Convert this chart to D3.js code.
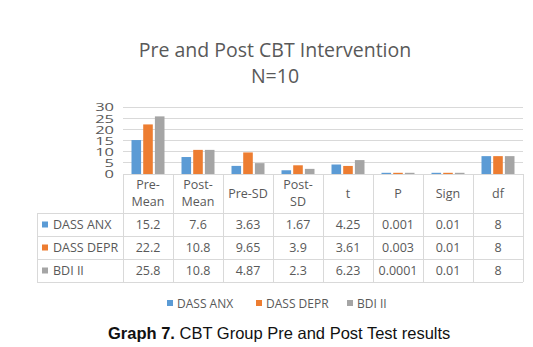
<!DOCTYPE html>
<html><head><meta charset="utf-8">
<script src="https://cdn.jsdelivr.net/npm/d3@7"></script>
<style>body{margin:0;background:#fff}</style>
</head><body>
<svg id="c" width="533" height="347"></svg>
<script>
const categories = ["Pre-Mean","Post-Mean","Pre-SD","Post-SD","t","P","Sign","df"];
const headerLines = [["Pre-","Mean"],["Post-","Mean"],["Pre-SD"],["Post-","SD"],["t"],["P"],["Sign"],["df"]];
const seriesNames = ["DASS ANX","DASS DEPR","BDI II"];
const dassAnx = [15.2, 7.6, 3.63, 1.67, 4.25, 0.001, 0.01, 8];
const dassDepr = [22.2, 10.8, 9.65, 3.9, 3.61, 0.003, 0.01, 8];
const bdiII = [25.8, 10.8, 4.87, 2.3, 6.23, 0.0001, 0.01, 8];
const tableText = [
  ["15.2","7.6","3.63","1.67","4.25","0.001","0.01","8"],
  ["22.2","10.8","9.65","3.9","3.61","0.003","0.01","8"],
  ["25.8","10.8","4.87","2.3","6.23","0.0001","0.01","8"]
];
const yTicks = [0,5,10,15,20,25,30];
const colors = ["#5b9bd5","#ed7d31","#a5a5a5"];
const series = [dassAnx, dassDepr, bdiII];

(function(){
const svg = d3.select("#c");
const font = "'Open Sans', sans-serif";
const txt = "#595959";
const grid = "#d9d9d9";

const pLeft = 123, pRight = 523, pTop = 107, base = 174;
const x = d3.scaleBand().domain(categories).range([pLeft, pRight]);
const y = d3.scaleLinear().domain([0, 30]).range([base, pTop]);
const inner = d3.scaleBand().domain(d3.range(3)).range([0, 33]).paddingInner(0.18);

// title
svg.append("text").attr("x", 275).attr("y", 57).attr("text-anchor","middle")
  .attr("font-family", font).attr("font-size", 19.5).attr("fill", txt).text("Pre and Post CBT Intervention");
svg.append("text").attr("x", 275).attr("y", 83).attr("text-anchor","middle")
  .attr("font-family", font).attr("font-size", 19.5).attr("fill", txt).text("N=10");

// gridlines
svg.append("g").selectAll("line").data(yTicks.filter(d=>d>0)).join("line")
  .attr("x1", pLeft).attr("x2", pRight).attr("y1", d=>y(d)).attr("y2", d=>y(d))
  .attr("stroke", grid).attr("stroke-width", 1).attr("shape-rendering","crispEdges");

// y axis labels
const sx = 1.5;
const yax = svg.append("g").attr("transform", `translate(${pLeft},0)`)
  .call(d3.axisLeft(y).tickValues(yTicks).tickSize(0).tickPadding(9));
yax.select(".domain").remove();
yax.selectAll(".tick text").attr("font-family", font).attr("font-size", 11).attr("fill", txt)
  .attr("transform", `scale(${sx},1)`).attr("x", -9/sx).attr("dy", "0.36em");

// bars
categories.forEach((c, i) => {
  const g0 = x(c) + (x.bandwidth() - 33) / 2;
  series.forEach((s, k) => {
    const h = Math.max(1.2, base - y(s[i]));
    svg.append("rect").attr("x", g0 + inner(k)).attr("y", base - h)
      .attr("width", inner.bandwidth()).attr("height", h).attr("fill", colors[k]);
  });
});

// table
const tLeft = 37, rowY = [174, 213, 236, 259, 282];
const tg = svg.append("g").attr("stroke", grid).attr("stroke-width", 1).attr("shape-rendering","crispEdges");
tg.append("line").attr("x1", pLeft).attr("x2", pRight).attr("y1", base).attr("y2", base);
rowY.slice(1).forEach(yy => tg.append("line").attr("x1", tLeft).attr("x2", pRight).attr("y1", yy).attr("y2", yy));
tg.append("line").attr("x1", tLeft).attr("x2", tLeft).attr("y1", rowY[1]).attr("y2", rowY[4]);
categories.forEach(c => tg.append("line").attr("x1", x(c)).attr("x2", x(c)).attr("y1", base).attr("y2", rowY[4]));
tg.append("line").attr("x1", pRight).attr("x2", pRight).attr("y1", base).attr("y2", rowY[4]);

// header text
categories.forEach((c, i) => {
  const lines = headerLines[i];
  const cx = x(c) + x.bandwidth() / 2;
  lines.forEach((l, j) => {
    const yy = lines.length === 1 ? 198 : 189 + j * 17;
    svg.append("text").attr("x", cx).attr("y", yy).attr("text-anchor","middle")
      .attr("font-family", font).attr("font-size", 12.5).attr("fill", txt).text(l);
  });
});
// rows
seriesNames.forEach((n, r) => {
  const cy = (rowY[r+1] + rowY[r+2]) / 2;
  svg.append("rect").attr("x", 42).attr("y", cy - 3).attr("width", 6).attr("height", 6).attr("fill", colors[r]);
  svg.append("text").attr("x", 53).attr("y", cy + 4.5).attr("font-family", font).attr("font-size", 12.5).attr("fill", txt).text(n);
  categories.forEach((c, i) => {
    svg.append("text").attr("x", x(c) + x.bandwidth()/2).attr("y", cy + 4.5).attr("text-anchor","middle")
      .attr("font-family", font).attr("font-size", 12.5).attr("fill", txt).text(tableText[r][i]);
  });
});

// legend
const legX = [167, 256, 347];
seriesNames.forEach((n, k) => {
  svg.append("rect").attr("x", legX[k]).attr("y", 300).attr("width", 6).attr("height", 6).attr("fill", colors[k]);
  svg.append("text").attr("x", legX[k] + 10).attr("y", 307.5).attr("font-family", font).attr("font-size", 12).attr("fill", txt).text(n);
});

// caption
const cap = svg.append("text").attr("x", 108).attr("y", 339).attr("font-family","'Liberation Sans', Arial, sans-serif").attr("font-size", 16.5).attr("fill", "#111");
cap.append("tspan").attr("font-weight","bold").text("Graph 7.");
cap.append("tspan").text(" CBT Group Pre and Post Test results");
})();
</script>
</body></html>
